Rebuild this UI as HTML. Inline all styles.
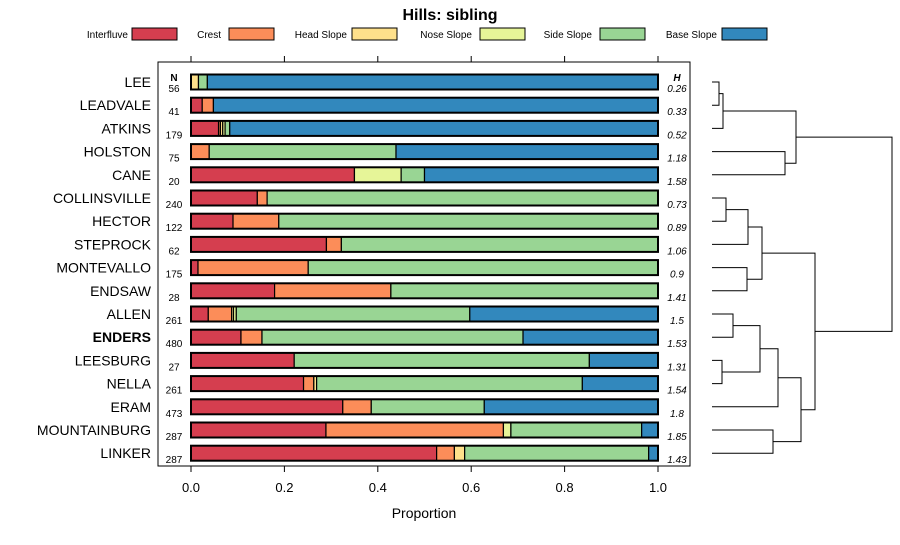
<!DOCTYPE html>
<html><head><meta charset="utf-8"><style>
body{margin:0;background:#fff;}
svg text{font-family:"Liberation Sans",sans-serif;}
</style></head><body>
<svg id="c" width="900" height="540" xmlns="http://www.w3.org/2000/svg"></svg>
<script>
const categories=["LEE","LEADVALE","ATKINS","HOLSTON","CANE","COLLINSVILLE","HECTOR","STEPROCK","MONTEVALLO","ENDSAW","ALLEN","ENDERS","LEESBURG","NELLA","ERAM","MOUNTAINBURG","LINKER"];
const seriesNames=["Interfluve","Crest","Head Slope","Nose Slope","Side Slope","Base Slope"];
const interfluve=[0,0.024,0.059,0,0.35,0.142,0.09,0.29,0.015,0.179,0.037,0.107,0.221,0.241,0.325,0.289,0.526];
const crest=[0,0.024,0.004,0.039,0,0.021,0.098,0.032,0.236,0.249,0.05,0.045,0,0.022,0.061,0.38,0.038];
const headSlope=[0.016,0,0.005,0,0,0,0,0,0,0,0.004,0,0,0.006,0,0,0.022];
const noseSlope=[0,0,0.005,0,0.10,0,0,0,0,0,0.006,0,0,0,0,0.016,0];
const sideSlope=[0.019,0,0.01,0.40,0.05,0.837,0.812,0.678,0.749,0.572,0.5,0.559,0.632,0.569,0.242,0.28,0.394];
const baseSlope=[0.965,0.952,0.917,0.561,0.5,0,0,0,0,0,0.403,0.289,0.147,0.162,0.372,0.035,0.02];
const nValues=[56,41,179,75,20,240,122,62,175,28,261,480,27,261,473,287,287];
const hValues=["0.26","0.33","0.52","1.18","1.58","0.73","0.89","1.06","0.9","1.41","1.5","1.53","1.31","1.54","1.8","1.85","1.43"];
const xTicks=[0,0.2,0.4,0.6,0.8,1.0];
const xTickLabels=["0.0","0.2","0.4","0.6","0.8","1.0"];
const colors=["#d53e4f","#fc8d59","#fee08b","#e6f598","#99d594","#3288bd"];
const series=[interfluve,crest,headSlope,noseSlope,sideSlope,baseSlope];
// dendrogram merges: [left, right, height]; negative = leaf index, positive = merge index(1-based)
const merges=[[-0,-1,0.07],[1,-2,0.11],[-3,-4,0.73],[2,3,0.84],[-5,-6,0.14],[5,-7,0.36],[-8,-9,0.35],[6,7,0.50],[-10,-11,0.21],[-12,-13,0.10],[9,10,0.48],[11,-14,0.66],[-15,-16,0.61],[12,13,0.89],[8,14,1.03],[4,15,1.80]];

const S="http://www.w3.org/2000/svg",svg=document.getElementById('c');
function el(t,a,p){const e=document.createElementNS(S,t);for(const k in a)e.setAttribute(k,a[k]);(p||svg).appendChild(e);return e;}
const x0=191,x1=658,xs=v=>x0+(x1-x0)*v;
const y0=82,dy=23.2,ys=i=>y0+i*dy;
const dx0=712,dxScale=(892-712)/1.80,dxs=h=>dx0+h*dxScale;

let t=el('text',{x:450,y:20,'text-anchor':'middle','font-size':16,'font-weight':'bold'});t.textContent="Hills: sibling";

// legend
const legX=[[128,132],[221,229],[347,352],[472,480],[592,600],[717,722]];
seriesNames.forEach((n,i)=>{
 const g=el('g',{});
 
 
 const tt=el('text',{x:legX[i][0],y:38,'text-anchor':'end','font-size':10},g);tt.textContent=n;
 el('rect',{x:legX[i][1],y:28,width:45,height:12,fill:colors[i],stroke:'#000','stroke-width':1},g);
});
// panel
const panel=el('rect',{x:158,y:62,width:532,height:404,fill:'none',stroke:'#000','stroke-width':1});

xTicks.forEach((v,i)=>{
 el('line',{x1:xs(v),x2:xs(v),y1:56,y2:62,stroke:'#000'});
 el('line',{x1:xs(v),x2:xs(v),y1:466,y2:472,stroke:'#000'});
 const l=el('text',{x:xs(v),y:492,'text-anchor':'middle','font-size':13});l.textContent=xTickLabels[i];
 
});
t=el('text',{x:424,y:518,'text-anchor':'middle','font-size':14});t.textContent="Proportion";

t=el('text',{x:174,y:81,'text-anchor':'middle','font-size':10,'font-weight':'bold'});t.textContent="N";
t=el('text',{x:677,y:81,'text-anchor':'middle','font-size':10,'font-weight':'bold','font-style':'italic'});t.textContent="H";
categories.forEach((c,i)=>{
 const y=ys(i);
 const lb=el('text',{x:151,y:y+5,'text-anchor':'end','font-size':14,'font-weight':c==="ENDERS"?'bold':'normal'});lb.textContent=c;
 
 const nl=el('text',{x:174,y:y+10,'text-anchor':'middle','font-size':10});nl.textContent=nValues[i];
 
 const hl=el('text',{x:677,y:y+10,'text-anchor':'middle','font-size':10,'font-style':'italic'});hl.textContent=hValues[i];
 
 let acc=0;
 series.forEach((s,k)=>{
  const v=s[i];if(v<=0)return;
  const r=el('rect',{x:xs(acc),y:y-7.5,width:xs(acc+v)-xs(acc),height:15,fill:colors[k],stroke:'#000','stroke-width':1.2});
  
  acc+=v;
 });
 const ob=el('rect',{x:xs(0),y:y-7.5,width:xs(acc)-xs(0),height:15,fill:'none',stroke:'#000','stroke-width':2});
 
});
// dendrogram
const pos=[];
function node(id){ if(id<=0) return {x:dx0,y:ys(-id)}; return pos[id-1]; }
merges.forEach((m,j)=>{
 const a=node(m[0]===-0?0:m[0]),b=node(m[1]),hx=dxs(m[2]);
 const p=el('path',{d:`M${a.x},${a.y}H${hx}V${b.y}H${b.x}`,fill:'none',stroke:'#000','stroke-width':1});
 
 pos[j]={x:hx,y:(a.y+b.y)/2};
});
</script>
</body></html>
